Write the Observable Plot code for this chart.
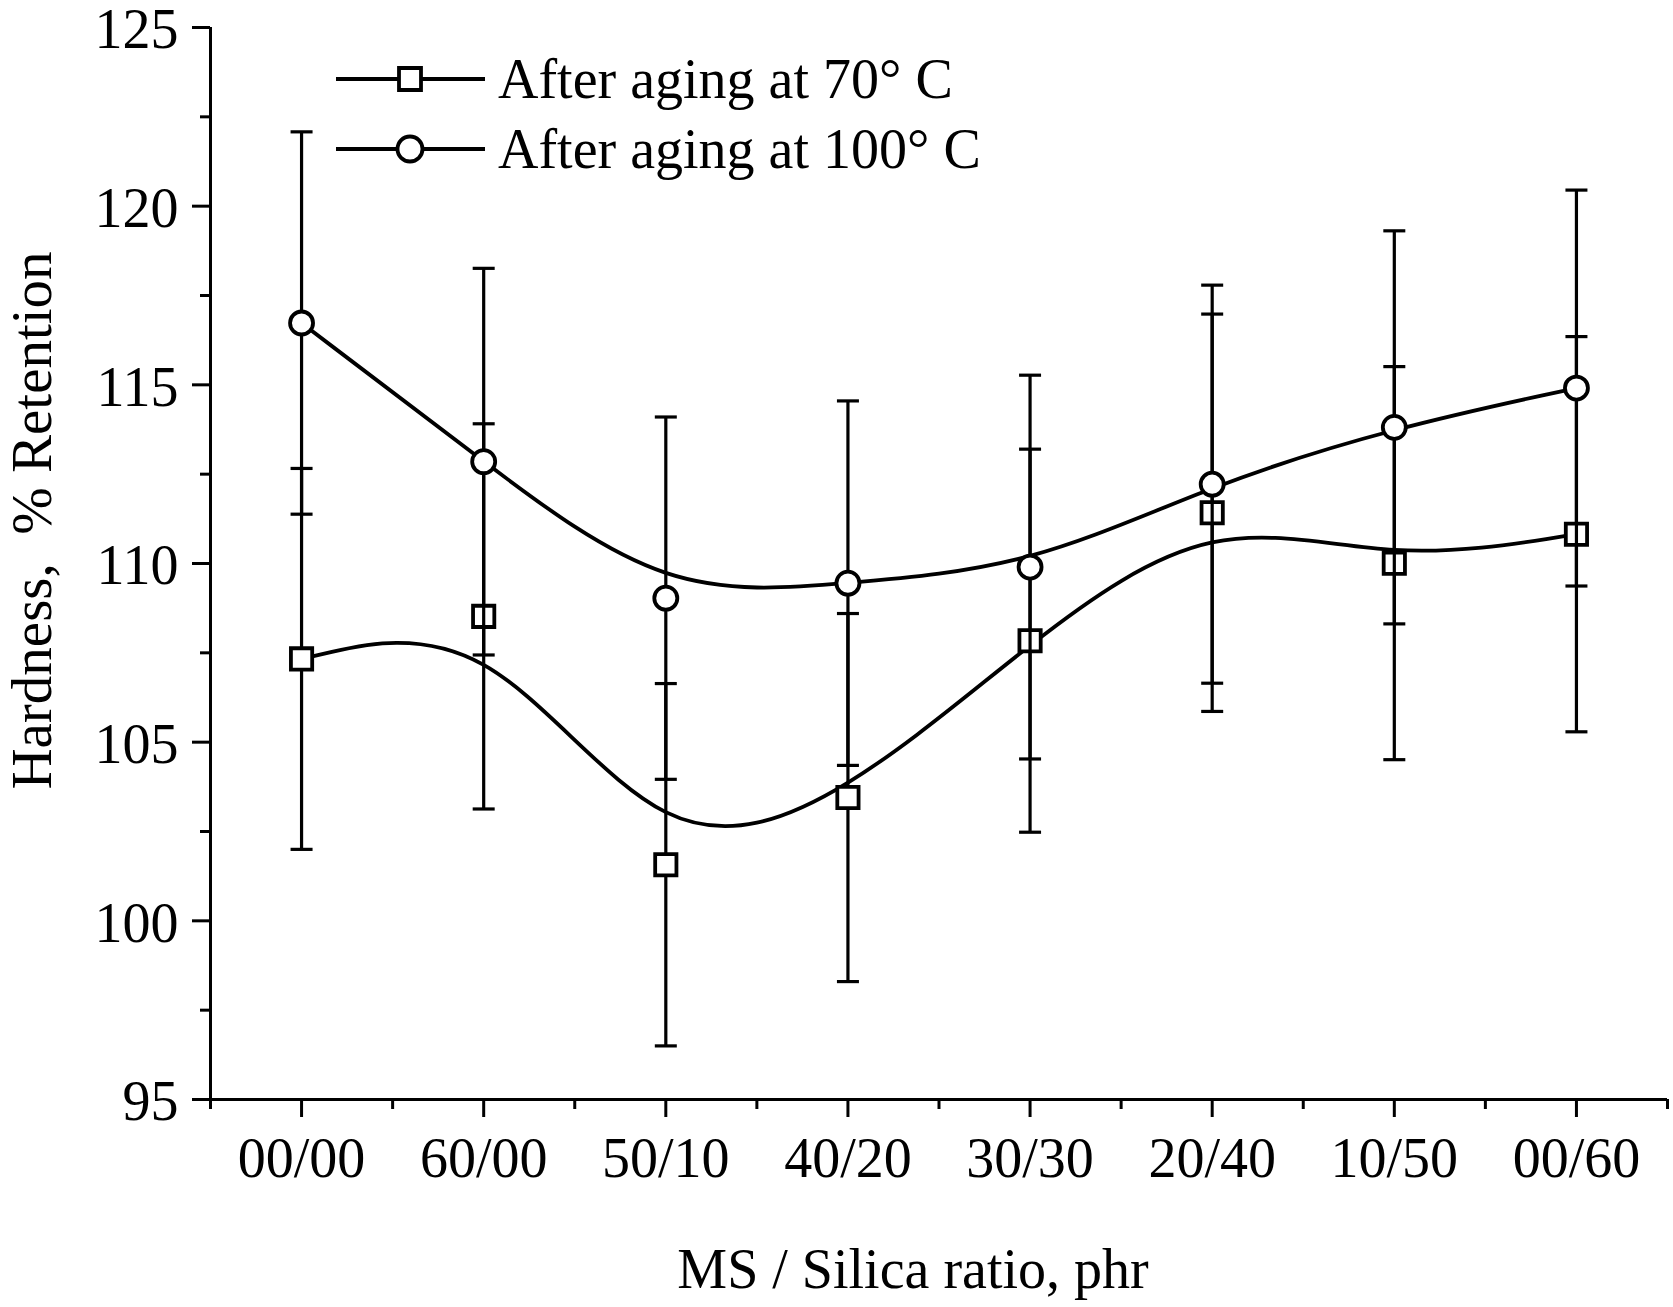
<!DOCTYPE html>
<html>
<head>
<meta charset="utf-8">
<script src="https://cdn.jsdelivr.net/npm/d3@7"></script>
<script src="https://cdn.jsdelivr.net/npm/@observablehq/plot@0.6"></script>
<style>
  body { margin: 0; background: #fff; }
  #wrap { position: relative; width: 1673px; height: 1307px; background: #fff; }
  #wrap svg text { white-space: pre; }
  #legend { position: absolute; left: 0; top: 0; }
</style>
</head>
<body>
<div id="wrap"></div>
<script>
// ---- data ----
const categories = ["00/00", "60/00", "50/10", "40/20", "30/30", "20/40", "10/50", "00/60"];
const hardness70 = [107.33, 108.52, 101.57, 103.45, 107.84, 111.42, 110.01, 110.82];
const error70 = [5.33, 5.39, 5.07, 5.15, 5.36, 5.56, 5.50, 5.53];
const hardness100 = [116.73, 112.85, 109.03, 109.45, 109.90, 112.22, 113.81, 114.91];
const error100 = [5.35, 5.41, 5.07, 5.10, 5.37, 5.57, 5.50, 5.54];
const yTicks = [95, 100, 105, 110, 115, 120, 125];
const yMinorTicks = [97.5, 102.5, 107.5, 112.5, 117.5, 122.5];
const seriesLabels = ["After aging at 70\u00B0 C", "After aging at 100\u00B0 C"];
const xTitle = "MS / Silica ratio, phr";
const yTitle = "Hardness,  % Retention";

const FONT = "'Liberation Serif', 'Times New Roman', serif";

const idx = d3.range(categories.length);
const xMinor = d3.range(categories.length + 1).map(i => i - 0.5);
const d70 = idx.map(i => ({i, v: hardness70[i], lo: hardness70[i] - error70[i], hi: hardness70[i] + error70[i]}));
const d100 = idx.map(i => ({i, v: hardness100[i], lo: hardness100[i] - error100[i], hi: hardness100[i] + error100[i]}));

const capSymbol = {
  draw(ctx, size) {
    const w = Math.sqrt(size / Math.PI);
    ctx.moveTo(-w, 0);
    ctx.lineTo(w, 0);
  }
};

function seriesMarks(data, symbol, r) {
  return [
    Plot.ruleX(data, {x: "i", y1: "lo", y2: "hi", stroke: "black", strokeWidth: 3.2}),
    Plot.dot(data, {x: "i", y: "lo", symbol: capSymbol, r: 11, fill: "none", stroke: "black", strokeWidth: 3.2}),
    Plot.dot(data, {x: "i", y: "hi", symbol: capSymbol, r: 11, fill: "none", stroke: "black", strokeWidth: 3.2}),
    Plot.line(data, {x: "i", y: "v", curve: "basis", stroke: "black", strokeWidth: 3.8}),
    Plot.dot(data, {x: "i", y: "v", symbol, r, fill: "white", stroke: "black", strokeWidth: 3.8})
  ];
}

const chart = Plot.plot({
  width: 1673,
  height: 1307,
  marginLeft: 210,
  marginRight: 6,
  marginTop: 27,
  marginBottom: 208,
  x: {type: "linear", domain: [-0.5, categories.length - 0.5]},
  y: {domain: [yTicks[0], yTicks[yTicks.length - 1]]},
  style: {fontFamily: FONT, fontSize: "56px", color: "black", background: "white"},
  marks: [
    Plot.axisY(yTicks, {tickSize: 18, strokeWidth: 3, tickFormat: () => "", label: null}),
    Plot.text(yTicks, {x: xMinor[0], y: d => d, text: d => String(d), dx: -32, dy: 3, textAnchor: "end", lineAnchor: "middle", fontSize: 56, fill: "black"}),
    Plot.axisY(yMinorTicks, {tickSize: 10, strokeWidth: 3, tickFormat: () => "", label: null}),
    Plot.axisX(idx, {tickSize: 18, tickPadding: 20, strokeWidth: 3, fontSize: 56, tickFormat: i => categories[i], label: null}),
    Plot.axisX(xMinor, {tickSize: 10, strokeWidth: 3, tickFormat: () => "", label: null}),
    Plot.ruleX([xMinor[0]], {y1: yTicks[0], y2: yTicks[yTicks.length - 1], stroke: "black", strokeWidth: 3}),
    Plot.ruleY([yTicks[0]], {x1: xMinor[0], x2: xMinor[xMinor.length - 1], stroke: "black", strokeWidth: 3}),
    ...seriesMarks(d70, "square", 12),
    ...seriesMarks(d100, "circle", 11.5),
    Plot.text([xTitle], {frameAnchor: "bottom", dy: 171, dx: -26, lineAnchor: "middle", fontSize: 56, fill: "black"}),
    Plot.text([yTitle], {frameAnchor: "left", rotate: -90, dx: -178, dy: -43, textAnchor: "middle", lineAnchor: "middle", fontSize: 57, fill: "black"})
  ]
});

const wrap = document.getElementById("wrap");
wrap.appendChild(chart);

// ---- legend (overlay) ----
const legend = d3.select(wrap).append("svg")
  .attr("id", "legend")
  .attr("width", 1673)
  .attr("height", 260);
const rowY = [79, 149];
const symbols = [d3.symbolSquare, d3.symbolCircle];
const sizes = [22 * 22, Math.PI * 12.5 * 12.5];
seriesLabels.forEach((label, k) => {
  const g = legend.append("g").attr("transform", `translate(0,${rowY[k]})`);
  g.append("line").attr("x1", 336).attr("x2", 485).attr("y1", 0).attr("y2", 0)
    .attr("stroke", "black").attr("stroke-width", 3.8);
  g.append("path").attr("transform", "translate(410,0)")
    .attr("d", d3.symbol(symbols[k], sizes[k])())
    .attr("fill", "white").attr("stroke", "black").attr("stroke-width", 3.8);
  g.append("text").attr("x", 498).attr("y", 19)
    .attr("font-family", FONT).attr("font-size", 56).attr("fill", "black")
    .text(label);
});
</script>
</body>
</html>
